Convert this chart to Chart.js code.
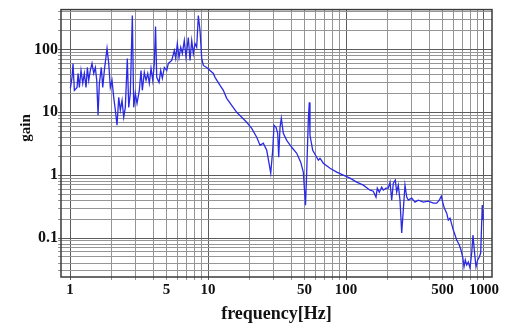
<!DOCTYPE html>
<html>
<head>
<meta charset="utf-8">
<script src="https://cdn.jsdelivr.net/npm/chart.js@4/dist/chart.umd.min.js"></script>
<style>
  html, body { margin: 0; padding: 0; background: #fff; }
  #chart { display: block; }
</style>
</head>
<body>
<canvas id="chart" width="507" height="326"></canvas>
<script>
// frequency [Hz]
const freq = [1.005,1.034,1.051,1.075,1.124,1.143,1.168,1.201,1.236,1.269,1.306,1.335,1.366,1.403,1.443,1.485,1.525,1.561,1.596,1.631,
  1.686,1.726,1.773,1.854,1.907,1.959,2.015,2.073,2.13,2.19,2.254,2.315,2.382,2.449,2.516,2.601,2.663,2.735,2.828,2.894,
  2.973,3.058,3.178,3.27,3.341,3.454,3.554,3.656,3.755,3.864,3.975,4.082,4.165,4.249,4.415,4.542,4.665,4.823,5.02,5.157,
  5.457,5.699,5.834,5.99,6.165,6.342,6.513,6.734,6.928,7.198,7.406,7.618,7.825,8.05,8.28,8.506,8.75,9.0,9.246,9.786,
  10.34,10.93,11.24,12.22,12.91,13.66,14.85,16.14,17.55,19.07,20.73,22.54,23.82,25.16,26.63,27.67,28.47,29.43,30.08,31.1,
  32.0,32.53,33.25,33.98,35.13,37.18,40.42,43.94,46.96,49.05,50.87,51.9,53.3,54.2,54.83,57.37,61.33,63.0,64.8,68.46,
  76.6,85.64,95.6,106.9,119.5,133.5,149.3,157.7,165,168.6,174.3,181.4,186.4,195,202.5,208.4,214.4,220.2,227.6,233,
  239.3,246.2,253.3,260.1,267.6,275.4,282.8,299.3,316.2,334.1,363.2,394.9,429.1,454.2,474.4,490.5,502.1,515.7,536.8,551.3,
  567.2,599.3,634.3,662.4,681.4,701.1,716.4,732.1,749.4,769.6,791.8,814.5,832.3,850.5,875,900.2,924.6,946.5,971.8,988.3];

// gain at each frequency
const gain = [24.0,36.0,60.0,22.4,24.9,41.6,24.9,46.4,28.9,41.6,24.9,51.8,32.2,46.4,60.0,41.6,51.8,32.2,8.96,28.9,
  51.8,24.9,46.4,104,60,24.9,32.2,17.3,10.8,6.22,17.3,10.8,15.5,8.33,12.0,72.0,12.0,20.0,347,12.0,
  20.0,13.9,22.4,46.4,22.4,43.2,32.2,41.6,28.9,49.9,32.2,60,232,36.0,29.9,46.4,34.7,51.8,46.4,60,
  66.9,96.4,72,124,74.6,108,86.4,139,74.6,155,66.9,139,86.4,124,108,347,200,72,55.7,51.8,
  46.4,41.6,36.0,26.8,22.4,16.7,12.9,10.0,8.33,6.94,5.57,4.01,2.99,3.22,2.49,1.55,1.08,2.49,6.22,5.78,
  4.64,1.93,5.78,8.03,4.64,3.59,2.78,2.23,1.61,1.12,0.334,1.12,7.46,14.4,4.31,2.49,1.93,1.73,1.86,1.55,
  1.29,1.12,1.0,0.896,0.774,0.694,0.578,0.557,0.448,0.622,0.537,0.645,0.578,0.622,0.622,0.774,0.401,0.746,0.833,0.537,
  0.694,0.401,0.12,0.278,0.694,0.448,0.401,0.431,0.373,0.401,0.373,0.387,0.359,0.359,0.401,0.464,0.373,0.299,0.249,0.193,
  0.208,0.134,0.093,0.0774,0.0645,0.0499,0.0347,0.0448,0.0373,0.0416,0.0334,0.0578,0.1116,0.0645,0.0347,0.0448,0.0499,0.0578,0.334,0.193];

// grid lines and labelled ticks
const xGrid = [1,2,3,4,5,6,7,8,9,10,20,30,40,50,60,70,80,90,100,200,300,400,500,600,700,800,900,1000];
const xLabels = [1,5,10,50,100,500,1000];
const yGrid = [0.03,0.04,0.05,0.06,0.07,0.08,0.09,0.1,0.2,0.3,0.4,0.5,0.6,0.7,0.8,0.9,1,2,3,4,5,6,7,8,9,10,20,30,40,50,60,70,80,90,100,200,300,400];
const yLabels = [0.1,1,10,100];
const decades = [0.1,1,10,100,1000];

const serif = '"Liberation Serif", "Times New Roman", serif';

const framePlugin = {
  id: 'frame',
  afterDraw(chart) {
    const {ctx, chartArea: a} = chart;
    ctx.save();
    ctx.strokeStyle = '#3a3a3a';
    ctx.lineWidth = 1.5;
    ctx.strokeRect(a.left, a.top, a.right - a.left, a.bottom - a.top);
    // y title sits a little above the middle in the original
    ctx.fillStyle = '#111';
    ctx.font = 'bold 15px ' + serif;
    ctx.textAlign = 'center';
    ctx.textBaseline = 'middle';
    ctx.translate(26, 128);
    ctx.rotate(-Math.PI / 2);
    ctx.fillText('gain', 0, 0);
    ctx.restore();
  }
};

function gridColor(ctx) {
  const v = ctx.tick && ctx.tick.value;
  return decades.includes(v) ? '#5c5c5c' : '#959595';
}

new Chart(document.getElementById('chart'), {
  type: 'line',
  plugins: [framePlugin],
  data: {
    datasets: [{
      data: freq.map((f, i) => ({x: f, y: gain[i]})),
      borderColor: '#2a2ae6',
      borderWidth: 1.3,
      pointRadius: 0,
      tension: 0,
      fill: false
    }]
  },
  options: {
    responsive: false,
    animation: false,
    layout: { padding: { top: 9, right: 15, left: 0, bottom: 0 } },
    plugins: { legend: { display: false }, tooltip: { enabled: false } },
    scales: {
      x: {
        type: 'logarithmic',
        min: 0.86,
        max: 1143,
        afterBuildTicks: s => { s.ticks = xGrid.map(v => ({value: v})); },
        afterFit: s => { s.height = 49; },
        ticks: {
          autoSkip: false,
          maxRotation: 0,
          padding: 1,
          color: '#111',
          font: { family: serif, size: 15, weight: 'bold' },
          callback: v => xLabels.includes(v) ? String(v) : ''
        },
        grid: { color: gridColor, lineWidth: 1, tickLength: 3 },
        border: { display: false },
        title: {
          display: true,
          text: 'frequency[Hz]',
          color: '#111',
          font: { family: serif, size: 18, weight: 'bold' },
          padding: { top: 0, bottom: 1 }
        }
      },
      y: {
        type: 'logarithmic',
        min: 0.024,
        max: 431,
        afterBuildTicks: s => { s.ticks = yGrid.map(v => ({value: v})); },
        afterFit: s => { s.width = 61; },
        ticks: {
          autoSkip: false,
          padding: 0,
          color: '#111',
          font: { family: serif, size: 16, weight: 'bold' },
          callback: v => yLabels.includes(v) ? String(v) : ''
        },
        grid: { color: gridColor, lineWidth: 1, tickLength: 3 },
        border: { display: false }
      }
    }
  }
});
</script>
</body>
</html>
